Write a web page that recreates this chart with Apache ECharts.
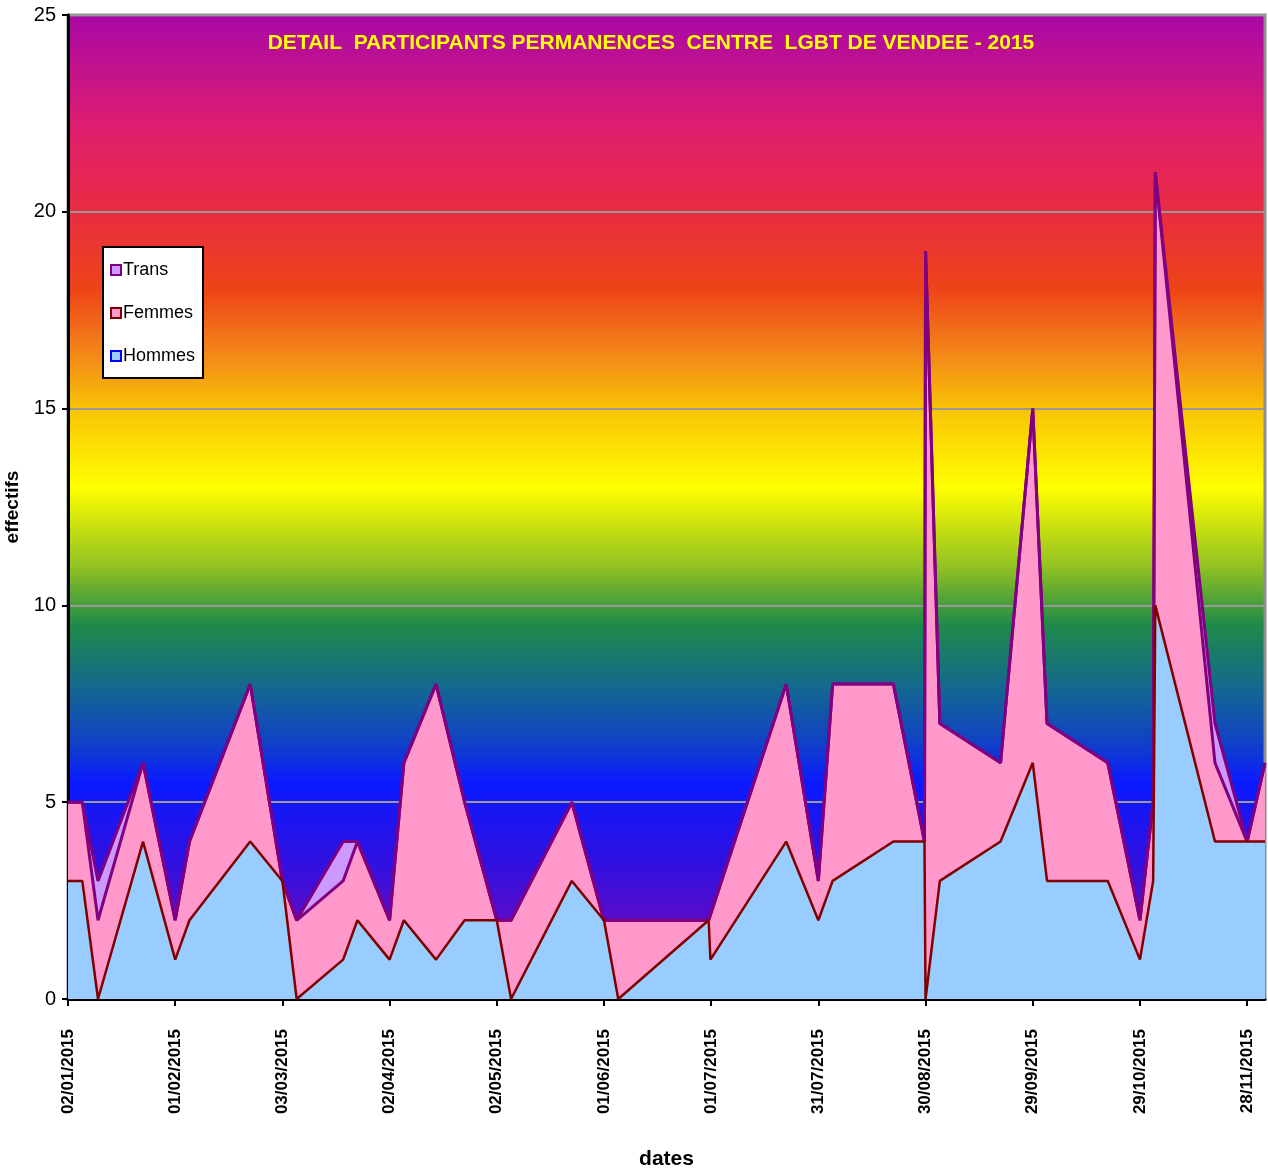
<!DOCTYPE html>
<html>
<head>
<meta charset="utf-8">
<script src="https://cdn.jsdelivr.net/npm/echarts@6/dist/echarts.min.js"></script>
<style>
  html, body { margin: 0; padding: 0; background: #ffffff; }
  #chart { width: 1268px; height: 1176px; }
</style>
</head>
<body>
<div id="chart"></div>
<script>
// jours depuis le 02/01/2015
var debut = new Date(2015, 0, 2)
var jours = [0, 4, 8.4, 21, 30, 34, 51, 60, 64, 77, 81, 90, 94, 103, 111, 120, 124, 141, 150, 154,
  179.3, 179.8, 201, 210, 214, 231, 239.7, 240, 244, 261, 270, 274, 291, 300, 303.7, 304.3, 321, 330, 335]
var hommes = [3, 3, 0, 4, 1, 2, 4, 3, 0, 1, 2, 1, 2, 1, 2, 2, 0, 3, 2, 0,
  2, 1, 4, 2, 3, 4, 4, 0, 3, 4, 6, 3, 3, 1, 3, 10, 4, 4, 4]
var femmes = [2, 2, 2, 2, 1, 2, 4, 0, 2, 2, 2, 1, 4, 7, 3, 0, 2, 2, 0, 2,
  0, 1, 4, 1, 5, 4, 0, 19, 4, 2, 9, 4, 3, 1, 2, 11, 2, 0, 2]
var trans = [0, 0, 1, 0, 0, 0, 0, 0, 0, 1, 0, 0, 0, 0, 0, 0, 0, 0, 0, 0,
  0, 0, 0, 0, 0, 0, 0, 0, 0, 0, 0, 0, 0, 0, 0, 0, 1, 0, 0]
var graduations = [0, 30, 60, 90, 120, 150, 180, 210, 240, 270, 300, 330]

// empilement : chaque courbe est la somme des series du dessous
var cumulFemmes = hommes.map(function(h, i){ return h + femmes[i] })
var cumulTrans = cumulFemmes.map(function(f, i){ return f + trans[i] })

function paires(valeurs){
    return jours.map(function(j, i){ return [j, valeurs[i]] })
}

function formatDate(v){
    var d = new Date(debut.getTime() + v * 86400000)
    var jj = ('0' + d.getDate()).slice(-2)
    var mm = ('0' + (d.getMonth() + 1)).slice(-2)
    return jj + '/' + mm + '/' + d.getFullYear()
}

var police = '"Liberation Sans", Arial, sans-serif'

var fond = new echarts.graphic.LinearGradient(0, 0, 0, 1, [
    { offset: 0, color: '#a808a8' },
    { offset: 0.12, color: '#e01e6c' },
    { offset: 0.2, color: '#e82c42' },
    { offset: 0.28, color: '#ee4418' },
    { offset: 0.34, color: '#f3821a' },
    { offset: 0.4, color: '#f8c206' },
    { offset: 0.48, color: '#ffff00' },
    { offset: 0.56, color: '#92c222' },
    { offset: 0.62, color: '#1e8a48' },
    { offset: 0.68, color: '#146a8c' },
    { offset: 0.74, color: '#1040c8' },
    { offset: 0.78, color: '#0a1aff' },
    { offset: 0.86, color: '#3010e0' },
    { offset: 0.92, color: '#5a0cc8' },
    { offset: 1, color: '#6408c0' }
])

var chart = echarts.init(document.getElementById('chart'))
var option = {
    animation: false,
    title: {
        text: 'DETAIL  PARTICIPANTS PERMANENCES  CENTRE  LGBT DE VENDEE - 2015',
        left: 646,
        textAlign: 'center',
        top: 28,
        textStyle: { color: '#ffff00', fontFamily: police, fontSize: 21, fontWeight: 'bold' }
    },
    legend: {
        orient: 'vertical',
        left: 103,
        top: 247,
        backgroundColor: '#ffffff',
        borderColor: '#000000',
        borderWidth: 2,
        padding: [14, 8, 13, 7],
        itemWidth: 10,
        itemHeight: 10,
        itemGap: 25,
        icon: 'rect',
        textStyle: { fontFamily: police, fontSize: 18, color: '#000000', padding: [0, 0, 0, -3] },
        data: [
            { name: 'Trans', itemStyle: { color: '#cc99ff', borderColor: '#800080', borderWidth: 2 } },
            { name: 'Femmes', itemStyle: { color: '#ff99cc', borderColor: '#800000', borderWidth: 2 } },
            { name: 'Hommes', itemStyle: { color: '#99ccff', borderColor: '#0000ff', borderWidth: 2 } }
        ]
    },
    grid: {
        left: 68,
        right: 3,
        top: 15,
        bottom: 177,
        outerBoundsMode: 'none',
        show: true,
        backgroundColor: fond,
        borderColor: '#8c8c8c',
        borderWidth: 3
    },
    xAxis: {
        type: 'value',
        min: 0,
        max: 335,
        interval: 30,
        name: 'dates',
        nameLocation: 'middle',
        nameGap: 150,
        nameTextStyle: { fontFamily: police, fontSize: 21, fontWeight: 'bold', color: '#000000' },
        axisLine: { lineStyle: { color: '#000000', width: 3 } },
        axisTick: { length: 7, customValues: graduations, lineStyle: { color: '#000000', width: 2 } },
        splitLine: { show: false },
        axisLabel: {
            rotate: 90,
            margin: 30,
            customValues: graduations,
            color: '#000000',
            fontFamily: police,
            fontSize: 17,
            fontWeight: 'bold',
            formatter: formatDate
        }
    },
    yAxis: {
        type: 'value',
        min: 0,
        max: 25,
        interval: 5,
        name: 'effectifs',
        nameLocation: 'middle',
        nameRotate: 90,
        nameGap: 46,
        nameTextStyle: { fontFamily: police, fontSize: 19, fontWeight: 'bold', color: '#000000' },
        axisLine: { show: true, lineStyle: { color: '#000000', width: 3 } },
        axisTick: { show: true, length: 6, lineStyle: { color: '#000000', width: 2 } },
        splitLine: { lineStyle: { color: '#999999', width: 2 } },
        axisLabel: { color: '#000000', fontFamily: police, fontSize: 20, margin: 12 }
    },
    series: [
        {
            name: 'Trans',
            type: 'line',
            showSymbol: false,
            itemStyle: { color: '#cc99ff' },
            lineStyle: { color: '#800080', width: 3 },
            areaStyle: { color: '#cc99ff', opacity: 1, origin: 'start' },
            data: paires(cumulTrans)
        },
        {
            name: 'Femmes',
            type: 'line',
            showSymbol: false,
            itemStyle: { color: '#ff99cc' },
            lineStyle: { color: '#800080', width: 3 },
            areaStyle: { color: '#ff99cc', opacity: 1, origin: 'start' },
            data: paires(cumulFemmes)
        },
        {
            name: 'Hommes',
            type: 'line',
            showSymbol: false,
            itemStyle: { color: '#99ccff' },
            lineStyle: { color: '#800000', width: 2.5 },
            areaStyle: { color: '#99ccff', opacity: 1, origin: 'start' },
            data: paires(hommes)
        }
    ]
}
option && chart.setOption(option)
</script>
</body>
</html>
